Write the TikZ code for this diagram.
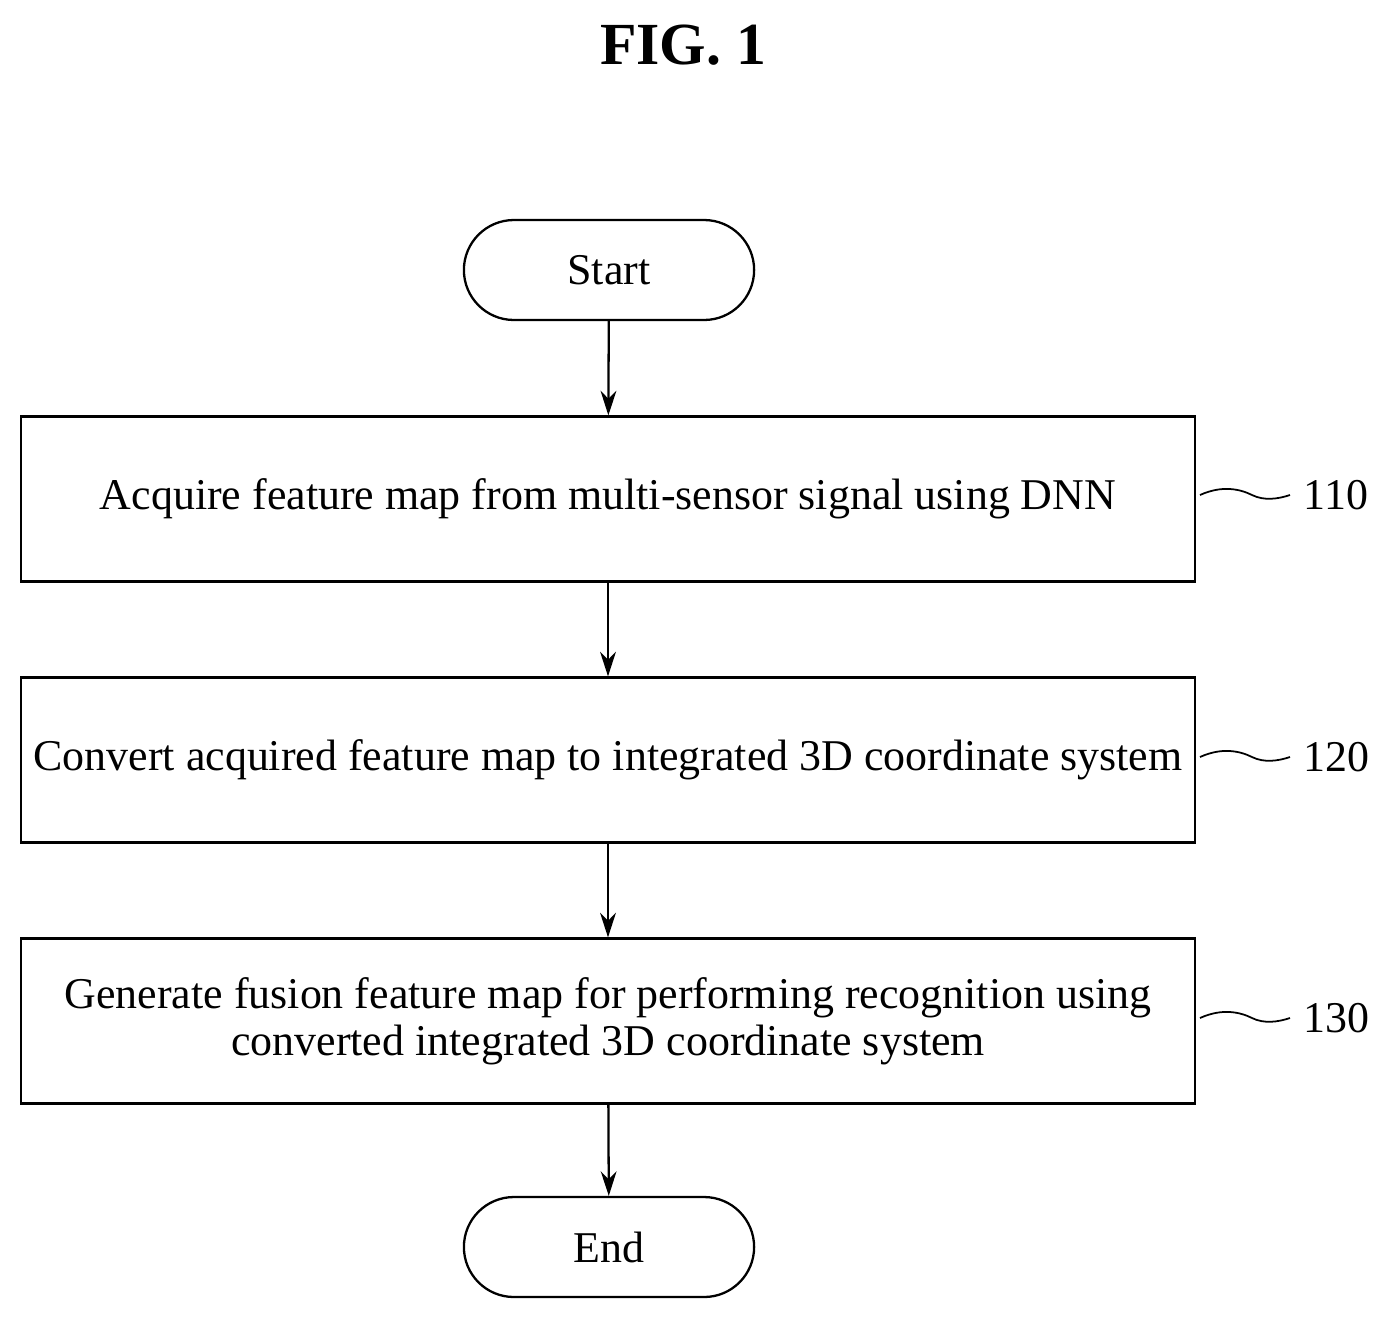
\documentclass[tikz,border=0pt]{standalone}
\usepackage{fontspec}
\setmainfont{Liberation Serif}
\usetikzlibrary{shapes.misc,arrows.meta}

\tikzset{
  stepbox/.style={draw, line width=1.3pt, minimum width=23.48cm, minimum height=3.3cm, align=center, font=\fontsize{25}{27}\selectfont},
  term/.style={draw, line width=1.3pt, rounded rectangle, minimum width=6.04cm, minimum height=2cm, font=\fontsize{25}{27}\selectfont},
  flow/.style={line width=1.3pt, -{Stealth[length=14pt,width=9pt]}},
  tag/.style={font=\fontsize{25}{27}\selectfont}
}

\begin{document}
\begin{tikzpicture}[x=0.02cm,y=-0.02cm]
  \useasboundingbox (0,0) rectangle (1388,1322);
  \node[font=\bfseries\fontsize{34}{36}\selectfont] (title) at (683,45) {FIG. 1};
  \node[term] (start) at (609,270) {Start};
  \node[stepbox] (s110) at (608,499) {Acquire feature map from multi-sensor signal using DNN};
  \node[stepbox] (s120) at (608,760) {Convert acquired feature map to integrated 3D coordinate system};
  \node[stepbox] (s130) at (608,1021) {Generate fusion feature map for performing recognition using\\ converted integrated 3D coordinate system};
  \node[term] (end) at (609,1247) {End};
  \draw[flow] (start) -- (s110);
  \draw[flow] (s110) -- (s120);
  \draw[flow] (s120) -- (s130);
  \draw[flow] (s130) -- (end);
  % reference numerals
  \foreach \n/\y in {110/495,120/757,130/1018}{
    \node[tag] (l\n) at (1336,\y) {\n};
    \coordinate (w\n) at (1290,\y);
    \draw[line width=1pt] (1200,\y) .. controls (1222,\y-10) and (1240,\y-6) .. (1252,\y)
      .. controls (1264,\y+6) and (1278,\y+4) .. (w\n);
  }
\end{tikzpicture}
\end{document}
